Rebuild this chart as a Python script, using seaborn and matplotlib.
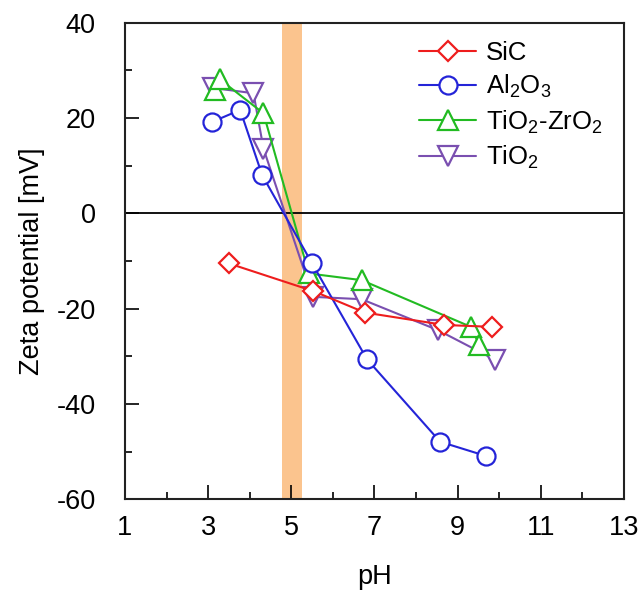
import matplotlib
matplotlib.use("Agg")
import matplotlib.pyplot as plt
import seaborn as sns

# values
sic_ph = [3.5, 5.53, 6.77, 8.68, 9.83]
sic_zeta = [-10.5, -16.3, -20.8, -23.4, -23.8]

al2o3_ph = [3.1, 3.77, 4.3, 5.5, 6.82, 8.58, 9.69]
al2o3_zeta = [19.2, 21.7, 8.0, -10.5, -30.6, -47.9, -50.9]

tizr_ph = [3.16, 3.28, 4.33, 5.42, 6.69, 9.32, 9.52]
tizr_zeta = [25.9, 28.1, 21.0, -12.6, -14.0, -23.8, -27.6]

tio2_ph = [3.12, 4.09, 4.33, 5.52, 6.69, 8.53, 9.9]
tio2_zeta = [26.3, 25.2, 13.6, -17.5, -18.0, -24.5, -30.7]

iep_band = [4.78, 5.25]

series = [
    ("SiC", sic_ph, sic_zeta, "#ee1d1d", "D", 10),
    (r"Al$_2$O$_3$", al2o3_ph, al2o3_zeta, "#2424d8", "o", 13),
    (r"TiO$_2$-ZrO$_2$", tizr_ph, tizr_zeta, "#22bb22", "^", 14),
    (r"TiO$_2$", tio2_ph, tio2_zeta, "#7a4fb0", "v", 14),
]

sns.set_style("ticks")
plt.rcParams["font.family"] = ["Liberation Sans", "DejaVu Sans"]
plt.rcParams["mathtext.fontset"] = "custom"
plt.rcParams["mathtext.rm"] = "Liberation Sans"
plt.rcParams["mathtext.it"] = "Liberation Sans:italic"
plt.rcParams["axes.unicode_minus"] = False
plt.rcParams["text.color"] = "black"
plt.rcParams["axes.labelcolor"] = "black"
plt.rcParams["xtick.color"] = "black"
plt.rcParams["ytick.color"] = "black"

fig = plt.figure(figsize=(6.43, 5.92), dpi=100)
ax = fig.add_axes([0.1944, 0.1563, 0.776, 0.8054])

ax.axvspan(iep_band[0], iep_band[1], color="#fbc48e", lw=0, zorder=0)
ax.axhline(0, color="black", lw=1.3, zorder=1)

# draw back to front so SiC ends up on top
for name, ph, zeta, color, marker, ms in reversed(series):
    sns.lineplot(x=ph, y=zeta, ax=ax, color=color, marker=marker, ms=ms,
                 mfc="white", mec=color, mew=1.6, lw=1.5, label=name,
                 estimator=None, sort=False, zorder=3)

handles, labels = ax.get_legend_handles_labels()
order = [labels.index(s[0]) for s in series]
ax.legend([handles[i] for i in order], [labels[i] for i in order],
          loc="upper left", bbox_to_anchor=(0.59, 0.962), frameon=False,
          fontsize=18.5, handlelength=2.2, handletextpad=0.4,
          labelspacing=0.32, borderpad=0, borderaxespad=0)

ax.set_xlim(1, 13)
ax.set_ylim(-60, 40)
ax.set_xticks([1, 3, 5, 7, 9, 11, 13])
ax.set_xticks([2, 4, 6, 8, 10, 12], minor=True)
ax.set_yticks([-60, -40, -20, 0, 20, 40])
ax.set_yticks([-50, -30, -10, 10, 30], minor=True)
ax.tick_params(which="both", direction="in", width=1.2, labelsize=19.5,
               top=False, right=False)
ax.tick_params(which="major", length=10)
ax.tick_params(which="minor", length=5)
ax.tick_params(axis="x", pad=11)
ax.tick_params(axis="y", pad=21)

for sp in ax.spines.values():
    sp.set_visible(True)
    sp.set_linewidth(1.5)
    sp.set_color("#222222")

ax.set_xlabel("pH", fontsize=19.5, labelpad=17)
ax.set_ylabel("Zeta potential [mV]", fontsize=19.5, labelpad=8)

fig.savefig("out.png", dpi=100)
